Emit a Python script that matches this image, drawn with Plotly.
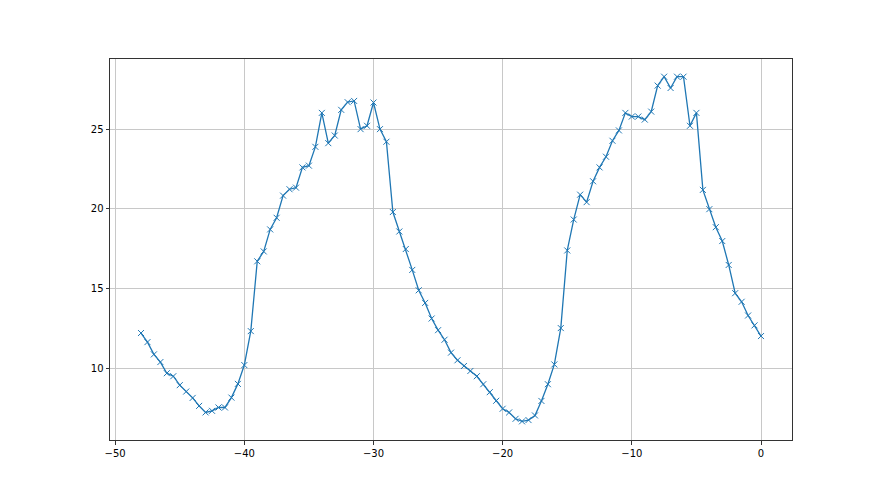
import plotly.graph_objects as go

x_vals = [-48.0, -47.5, -47.0, -46.5, -46.0, -45.5, -45.0, -44.5, -44.0, -43.5,
          -43.0, -42.5, -42.0, -41.5, -41.0, -40.5, -40.0, -39.5, -39.0, -38.5,
          -38.0, -37.5, -37.0, -36.5, -36.0, -35.5, -35.0, -34.5, -34.0, -33.5,
          -33.0, -32.5, -32.0, -31.5, -31.0, -30.5, -30.0, -29.5, -29.0, -28.5,
          -28.0, -27.5, -27.0, -26.5, -26.0, -25.5, -25.0, -24.5, -24.0, -23.5,
          -23.0, -22.5, -22.0, -21.5, -21.0, -20.5, -20.0, -19.5, -19.0, -18.5,
          -18.0, -17.5, -17.0, -16.5, -16.0, -15.5, -15.0, -14.5, -14.0, -13.5,
          -13.0, -12.5, -12.0, -11.5, -11.0, -10.5, -10.0, -9.5, -9.0, -8.5,
          -8.0, -7.5, -7.0, -6.5, -6.0, -5.5, -5.0, -4.5, -4.0, -3.5,
          -3.0, -2.5, -2.0, -1.5, -1.0, -0.5, 0.0]

y_vals = [12.21, 11.64, 10.87, 10.39, 9.69, 9.50, 8.94, 8.54, 8.14, 7.64,
          7.23, 7.33, 7.54, 7.54, 8.16, 9.02, 10.20, 12.33, 16.71, 17.33,
          18.71, 19.44, 20.83, 21.23, 21.33, 22.60, 22.71, 23.89, 26.02, 24.12,
          24.60, 26.21, 26.69, 26.77, 25.00, 25.21, 26.67, 25.00, 24.21, 19.80,
          18.58, 17.48, 16.17, 14.89, 14.10, 13.12, 12.39, 11.79, 10.98, 10.50,
          10.14, 9.83, 9.50, 9.00, 8.50, 7.96, 7.46, 7.23, 6.83, 6.67,
          6.75, 7.04, 7.95, 9.00, 10.24, 12.52, 17.39, 19.33, 20.89, 20.42,
          21.73, 22.60, 23.27, 24.27, 24.92, 26.02, 25.79, 25.79, 25.60, 26.10,
          27.73, 28.29, 27.58, 28.29, 28.29, 25.21, 26.02, 21.19, 19.98, 18.85,
          17.98, 16.48, 14.71, 14.17, 13.31, 12.69, 12.02]

x_ticks = [-50, -40, -30, -20, -10, 0]
y_ticks = [10, 15, 20, 25]

fig = go.Figure()
fig.add_trace(go.Scatter(
    x=x_vals, y=y_vals, mode="lines+markers",
    line=dict(color="#1f77b4", width=1.3),
    marker=dict(symbol="x-thin", size=6, color="#1f77b4",
                line=dict(color="#1f77b4", width=1)),
    showlegend=False,
))

axis_common = dict(
    showline=True, linecolor="#333333", linewidth=1, mirror=True,
    ticks="outside", ticklen=3.5, tickwidth=0.8, tickcolor="#333333",
    showgrid=True, gridcolor="#c8c8c8", gridwidth=1,
    zeroline=False,
    tickfont=dict(family="DejaVu Sans", size=10, color="black"),
)

fig.update_layout(
    width=880, height=495,
    margin=dict(l=102, r=96, t=51, b=63),
    plot_bgcolor="white", paper_bgcolor="white",
    xaxis=dict(range=[-50.4, 2.4], tickvals=x_ticks,
               ticktext=["\u221250", "\u221240", "\u221230", "\u221220", "\u221210", "0"],
               **axis_common),
    yaxis=dict(range=[5.5, 29.4], tickvals=y_ticks, **axis_common),
)

fig.write_html("out.html")
